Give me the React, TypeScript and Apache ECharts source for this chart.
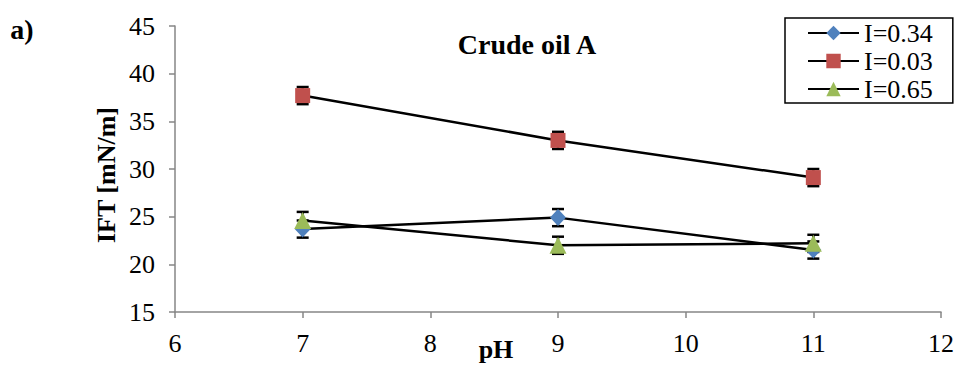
import React, { useEffect, useRef } from "react";
import * as echarts from "echarts";

// pH values where IFT was measured
const phValues = [7, 9, 11];

// IFT [mN/m] for each ionic strength
const iftI034 = [23.7, 24.9, 21.5];
const iftI003 = [37.7, 33.0, 29.1];
const iftI065 = [24.6, 22.0, 22.2];

// Error bar half-widths [mN/m]
const errI034 = [0.9, 0.9, 0.9];
const errI003 = [0.9, 0.9, 0.9];
const errI065 = [0.9, 0.9, 0.9];

const seriesNames = ["I=0.34", "I=0.03", "I=0.65"];
const seriesColors = ["#4F81BD", "#C0504D", "#9BBB59"];
const seriesSymbols = ["diamond", "rect", "triangle"];
const seriesSymbolSizes = [[16, 17], 15, [17, 17]];

const xTicks = [6, 12, 1];
const yTicks = [15, 45, 5];

const FONT = "Liberation Serif";

function errorBarSeries(name: string, ys: number[], errs: number[]) {
  const data = phValues.map((x, i) => [x, ys[i] - errs[i], ys[i] + errs[i]]);
  return {
    type: "custom",
    name: name + " error",
    z: 1,
    silent: true,
    data,
    encode: { x: 0, y: [1, 2] },
    renderItem: (_params: any, api: any) => {
      const x = api.value(0);
      const lo = api.coord([x, api.value(1)]);
      const hi = api.coord([x, api.value(2)]);
      const half = 6;
      const style = { stroke: "#000", lineWidth: 2.5 };
      return {
        type: "group",
        children: [
          { type: "line", shape: { x1: lo[0], y1: lo[1], x2: hi[0], y2: hi[1] }, style },
          { type: "line", shape: { x1: lo[0] - half, y1: lo[1], x2: lo[0] + half, y2: lo[1] }, style },
          { type: "line", shape: { x1: hi[0] - half, y1: hi[1], x2: hi[0] + half, y2: hi[1] }, style },
        ],
      };
    },
  };
}

function label(text: string, x: number, y: number, size: number, rotation = 0) {
  return {
    type: "text",
    x,
    y,
    rotation,
    style: {
      text,
      fontFamily: FONT,
      fontSize: size,
      fontWeight: "bold",
      fill: "#000",
      align: "center",
      verticalAlign: "middle",
    },
  };
}

export default function App() {
  const ref = useRef<HTMLDivElement>(null);

  useEffect(() => {
    if (!ref.current) return;
    const chart = echarts.init(ref.current, null, { renderer: "svg" });

    const allValues = [iftI034, iftI003, iftI065];
    const allErrs = [errI034, errI003, errI065];

    const lineSeries = seriesNames.map((name, k) => ({
      type: "line",
      name,
      z: 3,
      data: phValues.map((x, i) => [x, allValues[k][i]]),
      symbol: seriesSymbols[k],
      symbolSize: seriesSymbolSizes[k],
      showAllSymbol: true,
      lineStyle: { color: "#000", width: 2.5 },
      itemStyle: { color: seriesColors[k] },
    }));

    const errSeries = seriesNames.map((name, k) =>
      errorBarSeries(name, allValues[k], allErrs[k])
    );

    chart.setOption({
      animation: false,
      backgroundColor: "#fff",
      textStyle: { fontFamily: FONT },
      grid: { left: 175, right: 14, top: 26, bottom: 55, containLabel: false },
      xAxis: {
        type: "value",
        min: xTicks[0],
        max: xTicks[1],
        interval: xTicks[2],
        axisLine: { lineStyle: { color: "#868686", width: 1.5 } },
        axisTick: { show: true, inside: false, length: 6, lineStyle: { color: "#868686", width: 1.5 } },
        axisLabel: { color: "#000", fontSize: 26, fontFamily: FONT, margin: 18 },
        splitLine: { show: false },
      },
      yAxis: {
        type: "value",
        min: yTicks[0],
        max: yTicks[1],
        interval: yTicks[2],
        axisLine: { show: true, lineStyle: { color: "#868686", width: 1.5 } },
        axisTick: { show: true, inside: false, length: 6, lineStyle: { color: "#868686", width: 1.5 } },
        axisLabel: { color: "#000", fontSize: 26, fontFamily: FONT, margin: 20 },
        splitLine: { show: false },
      },
      legend: {
        data: seriesNames,
        orient: "vertical",
        left: 785,
        top: 18,
        itemWidth: 51,
        itemHeight: 18,
        itemGap: 2,
        padding: [2, 20, 1, 22],
        borderColor: "#000",
        borderWidth: 1.5,
        backgroundColor: "#fff",
        textStyle: { color: "#000", fontSize: 26, fontFamily: FONT, lineHeight: 26 },
      },
      graphic: [
        label("a)", 22, 29, 28),
        label("Crude oil A", 527, 44, 28),
        label("pH", 496, 349, 26),
        label("IFT [mN/m]", 106, 175, 26, Math.PI / 2),
      ],
      series: [...errSeries, ...lineSeries],
    });

    return () => chart.dispose();
  }, []);

  return <div ref={ref} style={{ width: 957, height: 367, position: "absolute", left: 0, top: 0 }} />;
}
